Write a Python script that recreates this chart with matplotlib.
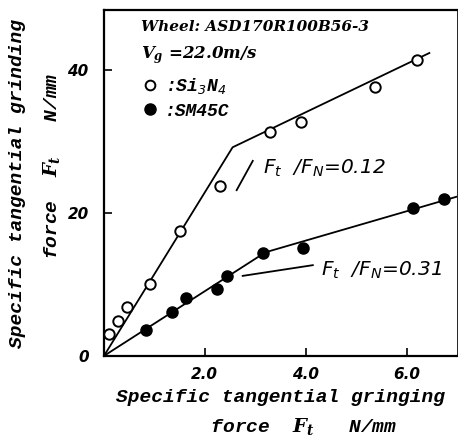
import matplotlib
matplotlib.use('Agg')
import matplotlib.pyplot as plt
from matplotlib.lines import Line2D

si_x = [0.10, 0.28, 0.45, 0.91, 1.50, 2.30, 3.29, 3.90, 5.37, 6.20]
si_y = [3.1, 4.9, 6.9, 10.0, 17.5, 23.8, 31.4, 32.8, 37.7, 41.4]
sm_x = [0.83, 1.35, 1.62, 2.24, 2.44, 3.15, 3.94, 6.12, 6.75]
sm_y = [3.6, 6.2, 8.1, 9.4, 11.2, 14.4, 15.1, 20.7, 22.0]

# fitted broken lines
si_fit_x = [0, 2.55, 6.45]
si_fit_y = [0, 29.2, 42.4]
sm_fit_x = [0, 3.2, 7.0]
sm_fit_y = [0, 14.5, 22.3]

xticks = [2.0, 4.0, 6.0]
xtick_labels = ['2.0', '4.0', '6.0']
yticks = [0, 20, 40]

plt.rcParams['mathtext.fontset'] = 'custom'
plt.rcParams['mathtext.it'] = 'DejaVu Serif:italic:bold'
plt.rcParams['mathtext.rm'] = 'DejaVu Serif:italic:bold'
plt.rcParams['mathtext.sf'] = 'DejaVu Sans:italic'

mono = dict(family='Liberation Mono', style='italic', weight='bold')
sans = dict(family='DejaVu Sans', style='italic', weight='bold')
serif = dict(family='DejaVu Serif', style='italic', weight='bold')

fig = plt.figure(figsize=(4.58, 4.41), dpi=100)
ax = fig.add_axes([0.227, 0.193, 0.771, 0.784])

ax.plot(si_fit_x, si_fit_y, color='black', lw=1.3, zorder=2)
ax.plot(sm_fit_x, sm_fit_y, color='black', lw=1.3, zorder=2)
ax.plot(si_x, si_y, 'o', ms=7.5, mfc='white', mec='black', mew=1.4, zorder=3)
ax.plot(sm_x, sm_y, 'o', ms=8, mfc='black', mec='black', zorder=3)

# leader lines and ratios
ax.plot([2.63, 2.95], [23.2, 27.3], color='black', lw=1.3)
ax.text(3.15, 26.3, r'$\mathsf{F_t}$  /$\mathsf{F_N}$=0.12', fontsize=14.5, va='center', ha='left',
        family='DejaVu Sans', style='italic')
ax.plot([2.75, 4.14], [11.2, 12.7], color='black', lw=1.3)
ax.text(4.3, 12.0, r'$\mathsf{F_t}$  /$\mathsf{F_N}$=0.31', fontsize=14.5, va='center', ha='left',
        family='DejaVu Sans', style='italic')

ax.text(0.105, 0.95, 'Wheel: ASD170R100B56-3', transform=ax.transAxes, fontsize=11, va='center', **serif)
ax.text(0.105, 0.87, '$V_g$ =22.0m/s', transform=ax.transAxes, fontsize=12, va='center', **serif)

handles = [Line2D([], [], ls='none', marker='o', ms=7, mfc='white', mec='black', mew=1.4),
           Line2D([], [], ls='none', marker='o', ms=8, mfc='black', mec='black')]
leg = ax.legend(handles, [':Si$_\\mathsf{3}$N$_\\mathsf{4}$', ':SM45C'], loc='upper left',
                bbox_to_anchor=(0.08, 0.835), frameon=False, handlelength=1.0,
                handletextpad=0.3, labelspacing=0.35, borderpad=0,
                prop=dict(family='Liberation Mono', style='italic', weight='bold', size=13))

ax.set_xlim(0, 7.0)
ax.set_ylim(0, 48.4)
ax.set_xticks(xticks)
ax.set_xticklabels(xtick_labels, fontsize=11, **sans)
ax.set_yticks(yticks)
ax.set_yticklabels([str(v) for v in yticks], fontsize=11, **sans)
ax.tick_params(direction='in', length=6, width=1.2, pad=8)
ax.tick_params(axis='y', pad=11)
for s in ax.spines.values():
    s.set_linewidth(1.6)
ax.spines['right'].set_linewidth(0.6)

ax.set_xlabel('Specific tangential gringing\n    force  $F_t$   N/mm', fontsize=14,
              linespacing=1.6, labelpad=5, **mono)
ax.set_ylabel('Specific tangential grinding\n   force  $F_t$   N/mm', fontsize=14,
              linespacing=1.9, labelpad=4, **mono)

fig.savefig('out.png', dpi=100)
